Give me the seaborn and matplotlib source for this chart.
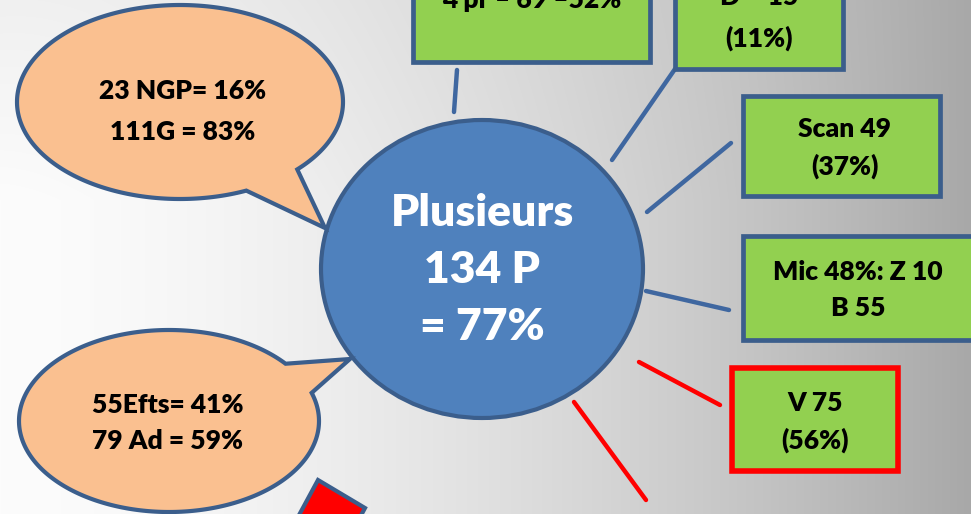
import numpy as np
import pandas as pd
import matplotlib
matplotlib.use("Agg")
import matplotlib.pyplot as plt
from matplotlib.patches import Ellipse, Polygon, Rectangle
import seaborn as sns

# ---- data (text content of the diagram) ----
center_lines = ["Plusieurs", "134 P", "= 77%"]
bubble_top_lines = ["23 NGP= 16%", "111G = 83%"]
bubble_bottom_lines = ["55Efts= 41%", "79 Ad = 59%"]
box_labels = ["4 pr – 69 –52%", "D = 15\n(11%)", "Scan 49\n(37%)", "Mic 48%: Z 10\nB 55", "V 75\n(56%)"]
box_highlight = [False, False, False, False, True]

# ---- layout (pixel space) ----
W, H = 971, 514
box_rects = [(413, -40, 237, 102), (675, -40, 168, 109), (743, 96, 197, 100),
             (743, 236, 240, 104), (732, 368, 166, 103)]
box_text_y = [[0], [-3, 38], [129, 166], [272, 308], [403, 440]]
box_text_x = [532, 759, 845, 858, 815]
connectors = pd.DataFrame({
    "seg": [0, 0, 1, 1, 2, 2, 3, 3, 4, 4, 5, 5],
    "x": [457, 454, 675, 612, 731, 647, 646, 729, 639, 720, 574, 646],
    "y": [70, 112, 69, 160, 143, 212, 291, 310, 362, 405, 402, 500],
    "kind": ["b", "b", "b", "b", "b", "b", "b", "b", "r", "r", "r", "r"],
})

sns.set_theme(style="white")
plt.rcParams["font.family"] = ["Lato", "DejaVu Sans"]

fig = plt.figure(figsize=(9.71, 5.14), dpi=100)
ax = fig.add_axes([0, 0, 1, 1])
ax.set_xlim(0, W)
ax.set_ylim(H, 0)
ax.axis("off")

# background gradient
xx, yy = np.meshgrid(np.arange(W), np.arange(H))
v = 252 - 84 * (xx / W) ** 1.6 - 12 * np.clip(1 - yy / 200, 0, 1) * (1 - xx / W)
bg = np.dstack([v, v, v]) / 255.0
ax.imshow(bg, extent=(0, W, H, 0), aspect="auto", zorder=0)

edge = "#3b5e8c"
lw = 3.0
FW = "heavy"

# connectors via seaborn
sns.lineplot(data=connectors, x="x", y="y", units="seg", hue="kind", estimator=None,
             sort=False, palette={"b": "#3f67a0", "r": "#ff0000"}, linewidth=3.2,
             legend=False, ax=ax, zorder=2)
ax.set_xlim(0, W)
ax.set_ylim(H, 0)
ax.set_xlabel("")
ax.set_ylabel("")

# central ellipse
ax.add_patch(Ellipse((482, 269), 322, 298, facecolor="#4f81bd", edgecolor=edge, lw=lw, zorder=3))
for t, y in zip(center_lines, [213, 270, 327]):
    ax.text(482, y, t, color="white", fontsize=32, fontweight=FW, ha="center", va="center", zorder=4)

# speech bubbles (single outline: ellipse arc + tail)
peach = "#fac090"
def bubble(cx, cy, rx, ry, a_start, a_end, tip, lines, ys, tx):
    angs = np.radians(np.linspace(a_end, a_start + 360, 300))
    pts = [(cx + rx * np.cos(a), cy + ry * np.sin(a)) for a in angs]
    pts.append(tip)
    ax.add_patch(Polygon(pts, closed=True, facecolor=peach, edgecolor=edge, lw=lw, zorder=3,
                         joinstyle="miter"))
    for t, y in zip(lines, ys):
        ax.text(tx, y, t, color="black", fontsize=19, fontweight=FW, ha="center", va="center", zorder=4)

bubble(180, 102, 163, 97, 44, 66, (325, 228), bubble_top_lines, [91, 132], 183)
bubble(169, 421, 150, 91, -39, -18, (350, 359), bubble_bottom_lines, [405, 441], 168)

# red rotated square at bottom
ax.add_patch(Polygon([(318, 480), (365, 508), (345, 545), (298, 517)], closed=True,
                     facecolor="#ff0000", edgecolor=edge, lw=lw, zorder=3))

# green boxes
for (x, y, w, h), lab, hl, ys, tx in zip(box_rects, box_labels, box_highlight, box_text_y, box_text_x):
    ax.add_patch(Rectangle((x, y), w, h, facecolor="#92d050",
                           edgecolor="#ff0000" if hl else edge, lw=4.0 if hl else 3.4, zorder=3))
    parts = lab.split("\n")
    for t, yv in zip(parts, ys):
        ax.text(tx, yv, t, color="black", fontsize=19, fontweight=FW, ha="center", va="center", zorder=4)

fig.savefig("out.png", dpi=100)
